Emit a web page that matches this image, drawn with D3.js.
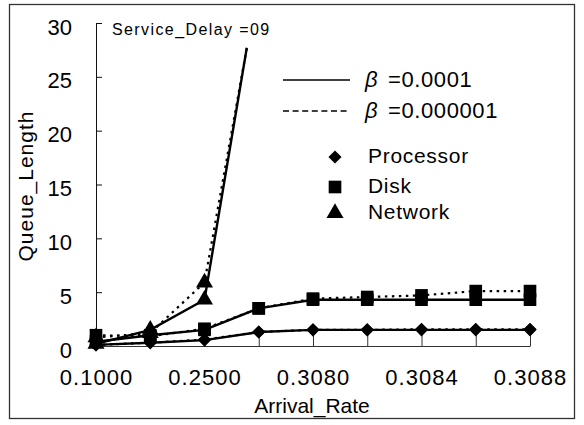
<!DOCTYPE html>
<html>
<head>
<meta charset="utf-8">
<script src="https://cdn.jsdelivr.net/npm/d3@7"></script>
<style>
  html, body { margin: 0; padding: 0; background: #fff; }
  svg { display: block; font-family: "Liberation Sans", Arial, Helvetica, sans-serif; }
</style>
</head>
<body>
<svg id="chart" width="584" height="425"></svg>
<script>
// Arrival rate categories (only every other one is labelled on the axis)
const categories = ["0.1000", "0.2000", "0.2500", "0.3000", "0.3080", "0.3082", "0.3084", "0.3086", "0.3088"];
const tickLabels = ["0.1000", "0.2500", "0.3080", "0.3084", "0.3088"];
const yTicks = [0, 5, 10, 15, 20, 25, 30];

// Queue length per resource, two values of beta
const processorA = [0.1, 0.3, 0.55, 1.3, 1.5, 1.5, 1.5, 1.5, 1.5];     // beta = 0.0001
const processorB = [0.1, 0.3, 0.6, 1.3, 1.5, 1.5, 1.55, 1.55, 1.55];   // beta = 0.000001
const diskA = [0.4, 1.0, 1.5, 3.5, 4.3, 4.3, 4.3, 4.3, 4.3];
const diskB = [1.0, 0.9, 1.6, 3.5, 4.4, 4.55, 4.7, 5.1, 5.1];
// Network queue blows up just past 0.2500; last point is where the curve leaves the plot
const networkIdx = [0, 1, 2, 2.78];
const networkA = [0.2, 1.5, 4.3, 27.7];
const networkB = [0.8, 1.2, 5.9, 27.7];

const svg = d3.select("#chart");

// outer frame
svg.append("rect")
  .attr("x", 9.5).attr("y", 4.5).attr("width", 565).attr("height", 414)
  .attr("fill", "none").attr("stroke", "#333").attr("stroke-width", 1.3);

const x = d3.scaleLinear().domain([0, categories.length - 1]).range([96, 530]);
const y = d3.scaleLinear().domain([0, 30]).range([346, 23]);

// y axis
const yAxis = svg.append("g")
  .attr("transform", `translate(${x(0)},0)`)
  .call(d3.axisLeft(y).tickValues(yTicks).tickSizeInner(-6).tickSizeOuter(0).tickPadding(20));
yAxis.select(".domain").attr("stroke", "#111").attr("stroke-width", 1);
yAxis.selectAll(".tick line").attr("stroke", "#111");
yAxis.selectAll(".tick text")
  .attr("font-size", 22).attr("fill", "#000")
  .attr("font-family", "Liberation Sans, Arial, sans-serif")
  .attr("dy", "0.5em").attr("x", -24);

// x axis (ticks point up into the plot)
const xAxis = svg.append("g")
  .attr("transform", `translate(0,${y(0)})`)
  .call(d3.axisBottom(x)
    .tickValues(d3.range(categories.length))
    .tickSizeInner(-12).tickSizeOuter(0).tickPadding(20)
    .tickFormat(i => tickLabels.includes(categories[i]) ? categories[i] : ""));
xAxis.select(".domain").attr("stroke", "#333").attr("stroke-width", 1);
xAxis.selectAll(".tick line").attr("stroke", "#333");
xAxis.selectAll(".tick text")
  .attr("font-size", 22).attr("fill", "#000")
  .attr("font-family", "Liberation Sans, Arial, sans-serif")
  .attr("letter-spacing", 1).attr("dy", "0.85em");

// axis titles
svg.append("text")
  .attr("x", 312).attr("y", 413).attr("text-anchor", "middle")
  .attr("font-size", 21).text("Arrival_Rate");
svg.append("text")
  .attr("transform", "translate(33,186) rotate(-90)")
  .attr("text-anchor", "middle").attr("font-size", 21).attr("letter-spacing", 1)
  .text("Queue_Length");

svg.append("text")
  .attr("x", 112).attr("y", 35).attr("font-size", 16).attr("letter-spacing", 1.4)
  .text("Service_Delay =09");

const lineIdx = d3.line().x((d, i) => x(i)).y(d => y(d));
const lineNet = d3.line().x((d, i) => x(networkIdx[i])).y(d => y(d));

const solid = { stroke: "#000", width: 2.4, dash: null };
const dashed = { stroke: "#000", width: 2.2, dash: "2.5,4.5" };

function drawLine(gen, data, st) {
  svg.append("path").datum(data)
    .attr("d", gen).attr("fill", "none")
    .attr("stroke", st.stroke).attr("stroke-width", st.width)
    .attr("stroke-dasharray", st.dash);
}

drawLine(lineIdx, processorB, dashed);
drawLine(lineIdx, diskB, dashed);
drawLine(lineNet, networkB, dashed);
drawLine(lineIdx, processorA, solid);
drawLine(lineIdx, diskA, solid);
drawLine(lineNet, networkA, solid);

const sym = {
  diamond: d3.symbol().type(d3.symbolDiamond2).size(110),
  square: d3.symbol().type(d3.symbolSquare).size(160),
  triangle: d3.symbol().type(d3.symbolTriangle).size(125)
};

function drawMarkers(data, shape, idx) {
  svg.append("g").selectAll("path").data(data).join("path")
    .attr("transform", (d, i) => `translate(${x(idx ? idx[i] : i)},${y(d)})`)
    .attr("d", sym[shape]).attr("fill", "#000");
}

drawMarkers(processorA, "diamond");
drawMarkers(processorB, "diamond");
drawMarkers(diskA, "square");
drawMarkers(diskB, "square");
drawMarkers(networkA.slice(0, 3), "triangle", networkIdx);
drawMarkers(networkB.slice(0, 3), "triangle", networkIdx);

// legend
const legend = svg.append("g");
const betaItems = [
  { label: "=0.0001", st: solid, y: 80 },
  { label: "=0.000001", st: dashed, y: 111 }
];
betaItems.forEach(b => {
  legend.append("line")
    .attr("x1", 283).attr("x2", 350).attr("y1", b.y).attr("y2", b.y)
    .attr("stroke", "#000").attr("stroke-width", b.st === solid ? 1.6 : 1.4)
    .attr("stroke-dasharray", b.st === solid ? null : "6,3.6");
  legend.append("text")
    .attr("x", 365).attr("y", b.y + 7).attr("font-size", 22)
    .attr("font-style", "italic").text("β");
  legend.append("text")
    .attr("x", 388).attr("y", b.y + 7).attr("font-size", 22).attr("letter-spacing", 0.6)
    .text(b.label);
});

const resItems = [
  { label: "Processor", shape: "diamond", y: 157 },
  { label: "Disk", shape: "square", y: 187 },
  { label: "Network", shape: "triangle", y: 213 }
];
resItems.forEach(r => {
  legend.append("path")
    .attr("transform", `translate(335,${r.y})`)
    .attr("d", sym[r.shape]).attr("fill", "#000");
  legend.append("text")
    .attr("x", 368).attr("y", r.y + 6).attr("font-size", 21).attr("letter-spacing", 0.7)
    .text(r.label);
});
</script>
</body>
</html>
